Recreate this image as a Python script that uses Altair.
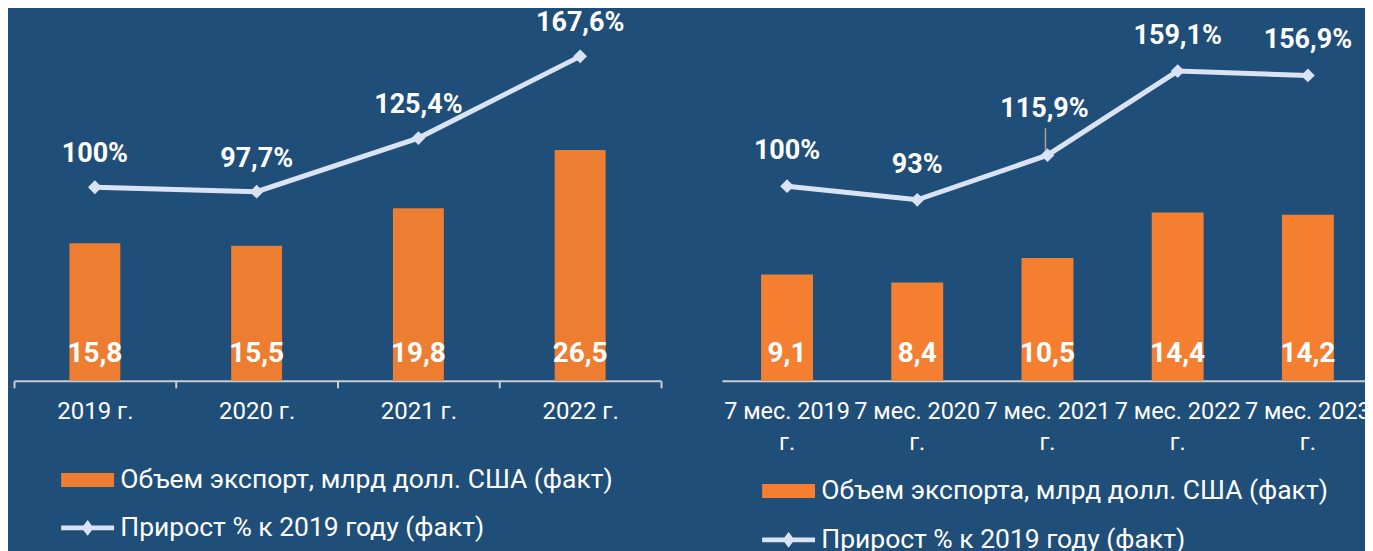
import altair as alt
import pandas as pd

# ---------------- data ----------------
left_categories = ["2019 г.", "2020 г.", "2021 г.", "2022 г."]
left_volume = [15.8, 15.5, 19.8, 26.5]
left_growth = [100, 97.7, 125.4, 167.6]

right_categories = ["7 мес. 2019 г.", "7 мес. 2020 г.", "7 мес. 2021 г.",
                    "7 мес. 2022 г.", "7 мес. 2023 г."]
right_volume = [9.1, 8.4, 10.5, 14.4, 14.2]
right_growth = [100, 93, 115.9, 159.1, 156.9]
right_callouts = ["7 мес. 2021 г."]

left_bar_name = "Объем экспорт, млрд долл. США (факт)"
right_bar_name = "Объем экспорта, млрд долл. США (факт)"
line_name = "Прирост % к 2019 году (факт)"

# ---------------- style ----------------
BG = "#1F4E79"
LINE = "#DAE3F3"
AXIS_GRAY = "#C8CDD3"
FONT = "Roboto"
RECT_PATH = "M-1,-0.875H5.625V0.875H-1Z"
LINE_PATH = "M-1,-0.3H5.625V0.3H-1Z M2.3125,-1L3.0625,0L2.3125,1L1.5625,0Z"

PCT_LABEL = ("(datum.pct % 1 === 0 ? format(datum.pct, 'd') : "
             "replace(format(datum.pct, '.1f'), '.', ',')) + '%'")
VOL_LABEL = "replace(format(datum.vol, '.1f'), '.', ',')"


def legend(x, y, shape, fill=None):
    kw = dict(title=None, orient="none", legendX=x, legendY=y, symbolType=shape,
              symbolSize=256, symbolStrokeWidth=0, symbolOpacity=1, labelOffset=38,
              labelFont=FONT, labelFontSize=26.5, labelColor="white", labelLimit=1000,
              padding=0)
    if fill:
        kw["symbolFillColor"] = fill
    return alt.Legend(**kw)


def panel(cats, vols, growth, bar_name, bar_color, bar_max, line_max, width, height,
          axis, lx, ly1, ly2, callouts, bar_size, label_dy):
    df = pd.DataFrame({"cat": cats, "vol": vols, "pct": growth,
                       "bar_series": bar_name, "line_series": line_name})
    base = alt.Chart(df).transform_calculate(pct_label=PCT_LABEL, vol_label=VOL_LABEL)
    x = alt.X("cat:N", sort=cats, title=None,
              scale=alt.Scale(paddingInner=0, paddingOuter=0), axis=axis)
    ybar = alt.Y("vol:Q", scale=alt.Scale(domain=[0, bar_max], nice=False), axis=None)
    yline = alt.Y("pct:Q", scale=alt.Scale(domain=[0, line_max], nice=False), axis=None)

    bars = base.mark_bar(size=bar_size).encode(
        x=x, y=ybar,
        color=alt.Color("bar_series:N",
                        scale=alt.Scale(domain=[bar_name], range=[bar_color]),
                        legend=legend(lx, ly1, RECT_PATH)),
    )
    btext = base.mark_text(font=FONT, fontSize=28, fontWeight="bold", color="white",
                           baseline="middle", dy=-27).encode(
        x=x, y=alt.YDatum(0, axis=None), text="vol_label:N")
    bar_grp = alt.layer(bars, btext)

    in_callout = "indexof(" + str(callouts) + ", datum.cat) >= 0"
    line = base.mark_line(strokeWidth=5).encode(
        x=x, y=yline,
        color=alt.Color("line_series:N",
                        scale=alt.Scale(domain=[line_name], range=[LINE]),
                        legend=legend(lx, ly2, LINE_PATH, LINE)),
    )
    pts = base.mark_point(shape="diamond", filled=True, size=190, color=LINE,
                          opacity=1).encode(x=x, y=yline)
    ltext = base.transform_filter("!(" + in_callout + ")").mark_text(
        font=FONT, fontSize=27, fontWeight="bold", color="white",
        baseline="middle", dy=label_dy).encode(x=x, y=yline, text="pct_label:N")
    layers = [line, pts, ltext]
    if callouts:
        ctext = base.transform_filter(in_callout).mark_text(
            font=FONT, fontSize=27, fontWeight="bold", color="white",
            baseline="middle", dy=-46, dx=-3).encode(x=x, y=yline, text="pct_label:N")
        leader = base.transform_filter(in_callout).mark_rule(
            color="#A6A6A6", strokeWidth=1.5, yOffset=-4, y2Offset=-27, xOffset=-2
        ).encode(x=x, y=yline, y2=alt.Y2("pct:Q"))
        layers += [leader, ctext]
    line_grp = alt.layer(*layers)

    return alt.layer(bar_grp, line_grp).resolve_scale(
        y="independent", color="independent"
    ).properties(width=width, height=height)


left_axis = alt.Axis(labelFont=FONT, labelFontSize=24, labelColor="white",
                     labelAngle=0, labelPadding=11.5, domainColor=AXIS_GRAY,
                     domainWidth=2, tickColor=AXIS_GRAY, tickWidth=2, tickSize=7,
                     tickBand="extent", grid=False, labelOverlap=False,
                     labelLimit=400)
right_axis = alt.Axis(labelFont=FONT, labelFontSize=23.5, labelColor="white",
                      labelAngle=0, labelPadding=19, domainColor=AXIS_GRAY,
                      domainWidth=2, ticks=False, tickSize=0, grid=False,
                      labelOverlap=False, labelLimit=400, labelLineHeight=31,
                      labelExpr="[replace(datum.label, ' г.', ''), 'г.']")

left = panel(left_categories, left_volume, left_growth, left_bar_name, "#ED7D31",
             40, 180, 648, 349, left_axis, 42, 435, 483, [], 51, -33)
right = panel(right_categories, right_volume, right_growth, right_bar_name, "#F57F31",
              29.8, 179, 652, 349, right_axis, 35, 446, 495, right_callouts, 52, -35)

chart = alt.hconcat(left, right, spacing=60).resolve_scale(
    color="independent"
).properties(
    background=BG,
    padding={"left": 5, "top": 1, "right": -8, "bottom": 0},
).configure_view(stroke=None)

chart.save("out.html", embed_options={"renderer": "svg", "actions": False})
